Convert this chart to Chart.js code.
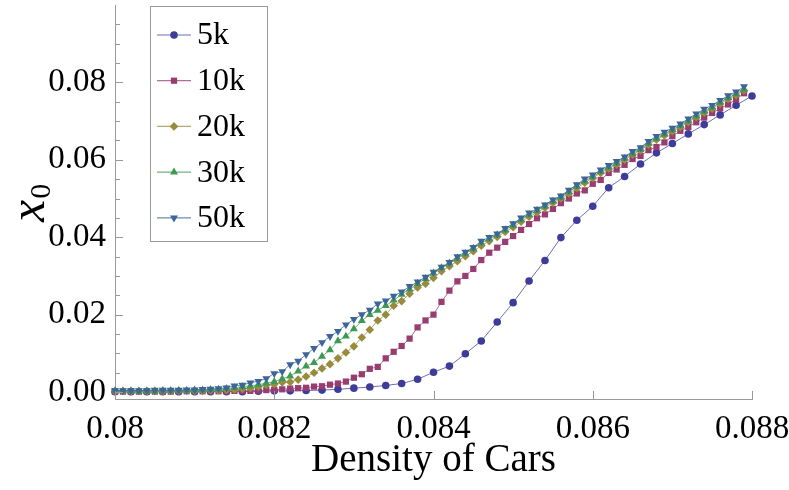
<!DOCTYPE html>
<html><head><meta charset="utf-8">
<script src="https://cdn.jsdelivr.net/npm/chart.js@4.4.0/dist/chart.umd.min.js"></script>
<style>html,body{margin:0;padding:0;background:#fff;}canvas{display:block;}</style>
</head><body>
<canvas id="c" width="789" height="490"></canvas>
<script>
const seriesNames = ['5k','10k','20k','30k','50k'];
const xCoarse = [0.0800,0.0802,0.0804,0.0806,0.0808,0.0810,0.0812,0.0814,0.0816,0.0818,
 0.0820,0.0822,0.0824,0.0826,0.0828,0.0830,0.0832,0.0834,0.0836,0.0838,
 0.0840,0.0842,0.0844,0.0846,0.0848,0.0850,0.0852,0.0854,0.0856,0.0858,
 0.0860,0.0862,0.0864,0.0866,0.0868,0.0870,0.0872,0.0874,0.0876,0.0878,0.0880];
const xFine = [0.0800,0.0801,0.0802,0.0803,0.0804,0.0805,0.0806,0.0807,0.0808,0.0809,
 0.0810,0.0811,0.0812,0.0813,0.0814,0.0815,0.0816,0.0817,0.0818,0.0819,
 0.0820,0.0821,0.0822,0.0823,0.0824,0.0825,0.0826,0.0827,0.0828,0.0829,
 0.0830,0.0831,0.0832,0.0833,0.0834,0.0835,0.0836,0.0837,0.0838,0.0839,
 0.0840,0.0841,0.0842,0.0843,0.0844,0.0845,0.0846,0.0847,0.0848,0.0849,
 0.0850,0.0851,0.0852,0.0853,0.0854,0.0855,0.0856,0.0857,0.0858,0.0859,
 0.0860,0.0861,0.0862,0.0863,0.0864,0.0865,0.0866,0.0867,0.0868,0.0869,
 0.0870,0.0871,0.0872,0.0873,0.0874,0.0875,0.0876,0.0877,0.0878,0.0879];
const s5k = [0.0001,0.0001,0.0001,0.0001,0.0001,0.0001,0.0001,0.0001,0.0001,0.0002,
 0.0003,0.0003,0.0004,0.0005,0.0007,0.0010,0.0013,0.0017,0.0022,0.0033,
 0.0051,0.0067,0.0099,0.0132,0.0181,0.0231,0.0287,0.0340,0.0399,0.0444,
 0.0480,0.0528,0.0557,0.0589,0.0618,0.0642,0.0667,0.0691,0.0716,0.0741,0.0765];
const s10k = [0.0001,0.0001,0.0001,0.0001,0.0001,0.0001,0.0001,0.0001,0.0002,0.0002,
 0.0002,0.0002,0.0002,0.0002,0.0002,0.0003,0.0003,0.0003,0.0004,0.0005,
 0.0006,0.0007,0.0009,0.0010,0.0011,0.0014,0.0015,0.0019,0.0022,0.0027,
 0.0037,0.0046,0.0060,0.0065,0.0087,0.0104,0.0119,0.0138,0.0167,0.0185,
 0.0200,0.0233,0.0262,0.0286,0.0300,0.0318,0.0341,0.0360,0.0373,0.0388,
 0.0403,0.0419,0.0434,0.0449,0.0459,0.0473,0.0488,0.0500,0.0513,0.0521,
 0.0538,0.0548,0.0566,0.0575,0.0587,0.0602,0.0610,0.0625,0.0633,0.0645,
 0.0661,0.0675,0.0685,0.0697,0.0709,0.0721,0.0733,0.0743,0.0756,0.0772];
const s20k = [0.0002,0.0002,0.0002,0.0002,0.0002,0.0002,0.0002,0.0002,0.0003,0.0003,
 0.0003,0.0003,0.0004,0.0004,0.0005,0.0006,0.0008,0.0010,0.0014,0.0018,
 0.0020,0.0025,0.0026,0.0032,0.0040,0.0050,0.0061,0.0072,0.0087,0.0102,
 0.0118,0.0141,0.0161,0.0185,0.0200,0.0223,0.0235,0.0254,0.0270,0.0280,
 0.0295,0.0312,0.0325,0.0338,0.0351,0.0364,0.0378,0.0390,0.0401,0.0414,
 0.0426,0.0440,0.0453,0.0464,0.0476,0.0489,0.0500,0.0513,0.0527,0.0541,
 0.0553,0.0566,0.0577,0.0588,0.0600,0.0613,0.0624,0.0639,0.0652,0.0663,
 0.0674,0.0685,0.0697,0.0710,0.0722,0.0732,0.0745,0.0757,0.0767,0.0779];
const s30k = [0.0003,0.0003,0.0003,0.0003,0.0003,0.0003,0.0004,0.0004,0.0004,0.0004,
 0.0005,0.0005,0.0006,0.0007,0.0009,0.0011,0.0014,0.0016,0.0019,0.0023,
 0.0027,0.0034,0.0041,0.0054,0.0067,0.0076,0.0092,0.0109,0.0132,0.0144,
 0.0163,0.0184,0.0200,0.0211,0.0223,0.0237,0.0252,0.0266,0.0280,0.0293,
 0.0307,0.0321,0.0333,0.0346,0.0358,0.0371,0.0385,0.0396,0.0406,0.0419,
 0.0431,0.0445,0.0458,0.0469,0.0480,0.0493,0.0503,0.0517,0.0531,0.0545,
 0.0556,0.0569,0.0580,0.0591,0.0603,0.0616,0.0627,0.0642,0.0655,0.0666,
 0.0677,0.0688,0.0700,0.0713,0.0725,0.0735,0.0748,0.0760,0.0770,0.0782];
const s50k = [0.0004,0.0004,0.0004,0.0004,0.0004,0.0005,0.0005,0.0005,0.0005,0.0006,
 0.0006,0.0007,0.0008,0.0009,0.0011,0.0016,0.0018,0.0024,0.0028,0.0035,
 0.0048,0.0053,0.0071,0.0080,0.0097,0.0113,0.0128,0.0144,0.0157,0.0174,
 0.0188,0.0200,0.0212,0.0228,0.0236,0.0248,0.0259,0.0273,0.0285,0.0297,
 0.0310,0.0323,0.0335,0.0350,0.0362,0.0374,0.0390,0.0400,0.0409,0.0423,
 0.0435,0.0450,0.0463,0.0473,0.0484,0.0497,0.0507,0.0522,0.0536,0.0551,
 0.0561,0.0574,0.0586,0.0596,0.0608,0.0622,0.0632,0.0648,0.0661,0.0672,
 0.0682,0.0693,0.0706,0.0719,0.0731,0.0741,0.0754,0.0766,0.0776,0.0789];
const xTickValues = [0.080,0.082,0.084,0.086,0.088];
const xTickLabels = ['0.08','0.082','0.084','0.086','0.088'];
const yTickValues = [0,0.02,0.04,0.06,0.08];
const yTickLabels = ['0.00','0.02','0.04','0.06','0.08'];
const yMinorTicks = [0.005,0.01,0.015,0.025,0.03,0.035,0.045,0.05,0.055,0.065,0.07,0.075,0.085,0.09,0.095];
const yTitleMain = 'x';
const yTitleSub = '0';

const SERIF = '"Liberation Serif", "Times New Roman", serif';
const styles = [
  {fill:'#3d3d99', line:'rgba(61,61,153,0.75)', shape:'circle', r:3.8, rot:0},
  {fill:'#993d71', line:'rgba(153,61,113,0.75)', shape:'rect', r:4.4, rot:0},
  {fill:'#998b3d', line:'rgba(153,139,61,0.75)', shape:'rectRot', r:4.3, rot:0},
  {fill:'#3d9954', line:'rgba(61,153,84,0.75)', shape:'triangle', r:4.6, rot:0},
  {fill:'#3d6599', line:'rgba(61,101,153,0.75)', shape:'triangle', r:4.6, rot:180}
];
const xsList = [xCoarse, xFine, xFine, xFine, xFine];
const ysList = [s5k, s10k, s20k, s30k, s50k];

const datasets = seriesNames.map((name, i) => ({
  label: name,
  data: xsList[i].map((x, j) => ({x: x, y: ysList[i][j]})),
  borderColor: styles[i].line,
  borderWidth: 1,
  backgroundColor: styles[i].fill,
  pointBackgroundColor: styles[i].fill,
  pointBorderColor: styles[i].fill,
  pointBorderWidth: 0,
  pointStyle: styles[i].shape,
  pointRotation: styles[i].rot,
  pointRadius: styles[i].r,
  tension: 0,
  clip: false,
  order: seriesNames.length - i
}));

function lookup(values, labels, v) {
  const i = values.findIndex(t => Math.abs(t - v) < 1e-9);
  return i >= 0 ? labels[i] : '';
}

const tickPlugin = {
  id: 'inwardTicks',
  afterDatasetsDraw(chart) {
    const ctx = chart.ctx, a = chart.chartArea, xs = chart.scales.x, ys = chart.scales.y;
    ctx.save();
    ctx.strokeStyle = '#999'; ctx.lineWidth = 1;
    ctx.beginPath();
    yTickValues.forEach(v => { const p = Math.round(ys.getPixelForValue(v)) + 0.5; ctx.moveTo(a.left, p); ctx.lineTo(a.left + 8, p); });
    yMinorTicks.forEach(v => { const p = Math.round(ys.getPixelForValue(v)) + 0.5; ctx.moveTo(a.left, p); ctx.lineTo(a.left + 5, p); });
    xTickValues.forEach(v => { const p = Math.round(xs.getPixelForValue(v)) + 0.5; ctx.moveTo(p, a.bottom); ctx.lineTo(p, a.bottom - 8); });
    ctx.stroke();
    ctx.restore();
  }
};

const yTitlePlugin = {
  id: 'yTitle',
  afterDraw(chart) {
    const ctx = chart.ctx;
    ctx.save();
    ctx.translate(44, 222);
    ctx.rotate(-Math.PI / 2);
    ctx.fillStyle = '#000';
    ctx.textAlign = 'left'; ctx.textBaseline = 'alphabetic';
    ctx.font = 'italic 50px ' + SERIF;
    ctx.fillText(yTitleMain, 0, 0);
    const w = ctx.measureText(yTitleMain).width;
    ctx.font = '30px ' + SERIF;
    ctx.fillText(yTitleSub, w + 1, 6);
    ctx.restore();
  }
};

const legendPlugin = {
  id: 'boxLegend',
  afterDraw(chart) {
    const ctx = chart.ctx;
    ctx.save();
    const bx = 150.5, by = 6.5, bw = 117, bh = 235;
    ctx.fillStyle = '#fff'; ctx.fillRect(bx, by, bw, bh);
    ctx.strokeStyle = '#999'; ctx.lineWidth = 1; ctx.strokeRect(bx, by, bw, bh);
    chart.data.datasets.forEach((ds, i) => {
      const cy = 35 + i * 45.7;
      ctx.strokeStyle = ds.borderColor; ctx.lineWidth = 1.2;
      ctx.beginPath(); ctx.moveTo(157, cy); ctx.lineTo(191, cy); ctx.stroke();
      ctx.fillStyle = ds.pointBackgroundColor;
      Chart.helpers.drawPoint(ctx, {pointStyle: ds.pointStyle, rotation: ds.pointRotation, radius: ds.pointRadius, borderWidth: 0}, 174, cy);
      ctx.fillStyle = '#000';
      ctx.font = '32px ' + SERIF;
      ctx.textAlign = 'left'; ctx.textBaseline = 'middle';
      ctx.fillText(ds.label, 197, cy + 1);
    });
    ctx.restore();
  }
};

new Chart(document.getElementById('c'), {
  type: 'line',
  data: { datasets: datasets },
  plugins: [tickPlugin, yTitlePlugin, legendPlugin],
  options: {
    responsive: false,
    animation: false,
    events: [],
    layout: { padding: { top: 5, right: 37, left: 0, bottom: 0 } },
    plugins: { legend: { display: false }, tooltip: { enabled: false } },
    scales: {
      x: {
        type: 'linear', min: 0.08, max: 0.088,
        afterBuildTicks: s => { s.ticks = xTickValues.map(v => ({value: v})); },
        afterFit: s => { s.height = 91; s.paddingLeft = 0; s.paddingRight = 0; },
        grid: { display: false, drawTicks: false },
        border: { display: true, color: '#999', width: 1 },
        ticks: { autoSkip: false, maxRotation: 0, padding: 11, color: '#000',
          font: { family: SERIF, size: 33 },
          callback: v => lookup(xTickValues, xTickLabels, v) },
        title: { display: true, text: 'Density of Cars', color: '#000',
          font: { family: SERIF, size: 39 }, padding: { top: 0, bottom: 6 } }
      },
      y: {
        type: 'linear', min: -0.0018, max: 0.1,
        afterBuildTicks: s => { s.ticks = yTickValues.map(v => ({value: v})); },
        afterFit: s => { s.width = 115; s.paddingTop = 0; s.paddingBottom = 0; },
        grid: { display: false, drawTicks: false },
        border: { display: true, color: '#999', width: 1 },
        ticks: { autoSkip: false, padding: 9, color: '#000',
          font: { family: SERIF, size: 33 },
          callback: v => lookup(yTickValues, yTickLabels, v) },
        title: { display: false }
      }
    }
  }
});
</script>
</body></html>
